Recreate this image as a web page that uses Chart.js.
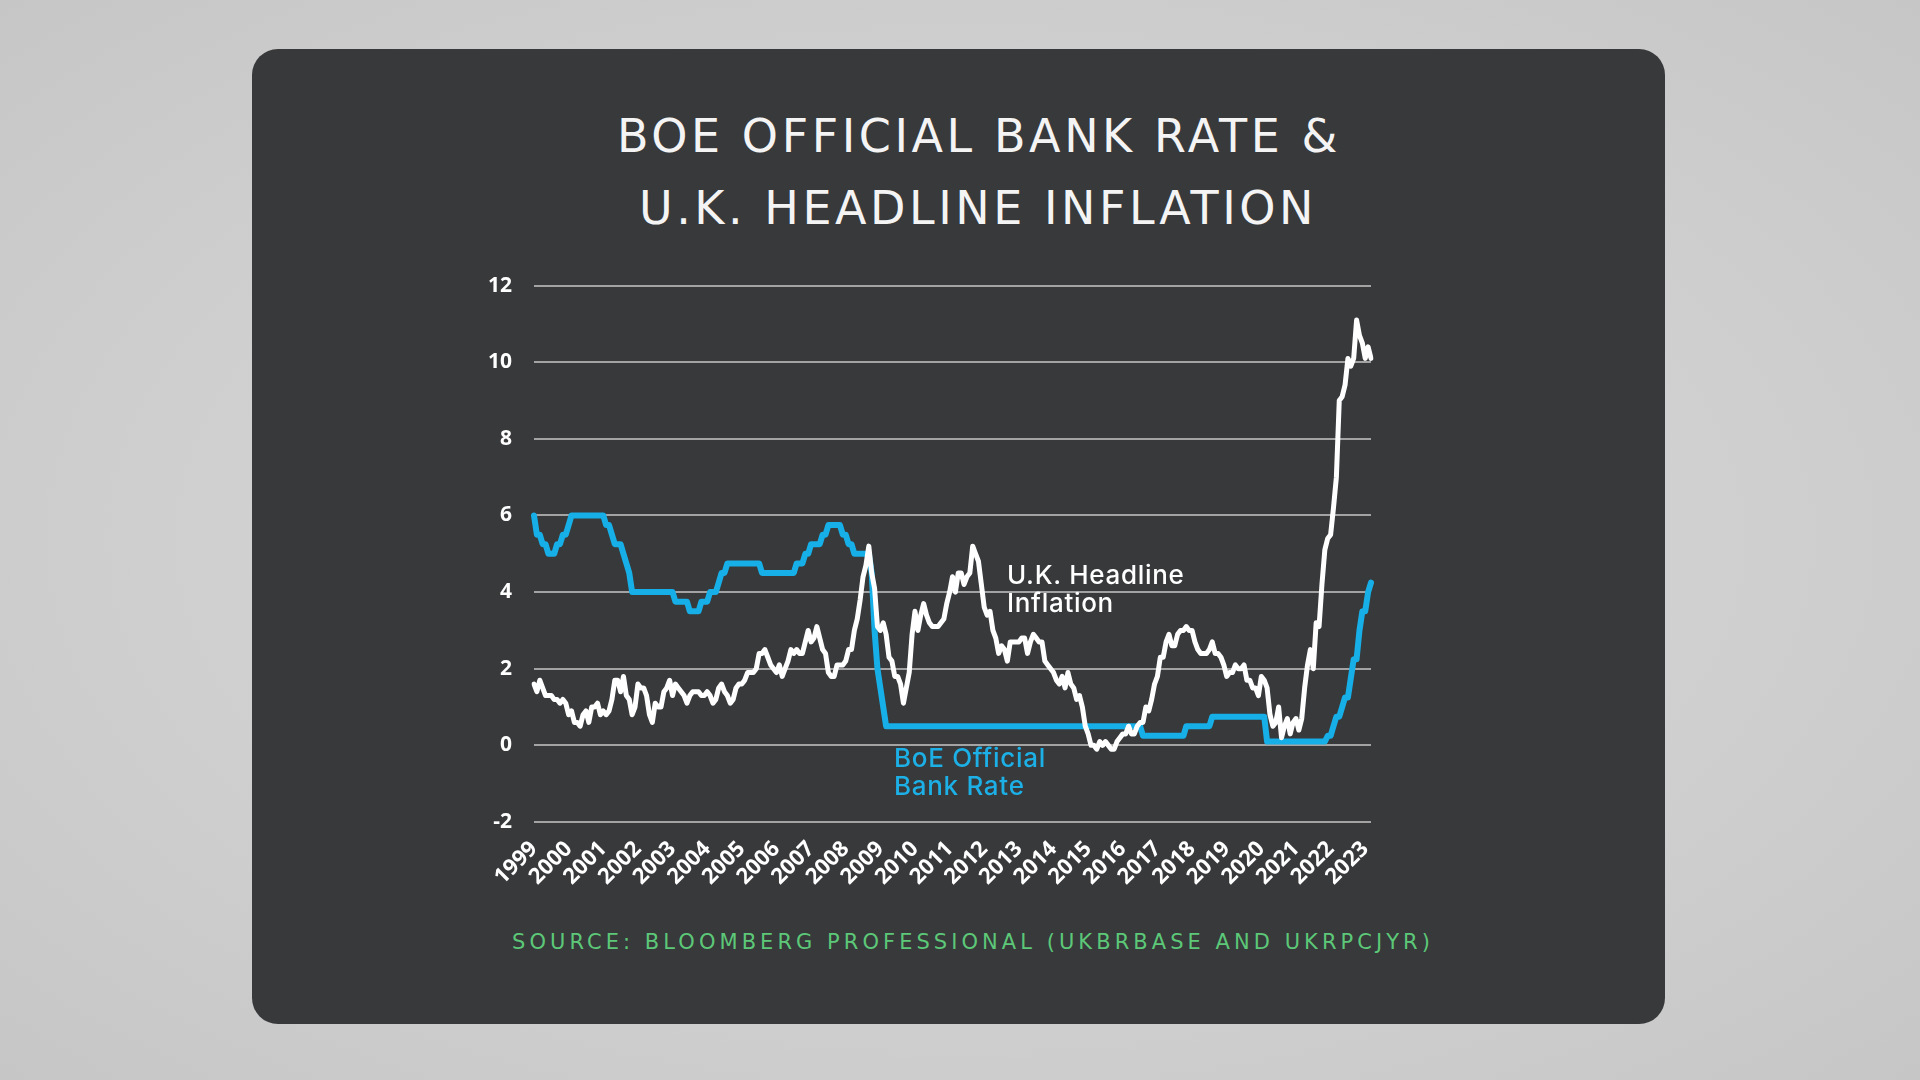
<!DOCTYPE html>
<html>
<head>
<meta charset="utf-8">
<script src="https://cdn.jsdelivr.net/npm/chart.js@4.4.0/dist/chart.umd.min.js"></script>
<style>
  html, body { margin:0; padding:0; }
  body { width:1920px; height:1080px; overflow:hidden; position:relative;
         background: radial-gradient(ellipse at 50% 50%, #d9d9d9 0%, #cfcfcf 60%, #c6c6c6 100%); }
  #panel { position:absolute; left:252px; top:49px; width:1413px; height:975px;
           background:#37393b; border-radius:26px; }
  .title { position:absolute; font-family: "DejaVu Sans", Roboto, sans-serif; font-weight:400;
           font-size:46px; line-height:46px; color:#f4f4f4; white-space:nowrap; }
  #source { position:absolute; font-family: "DejaVu Sans", Roboto, sans-serif; font-size:21px;
            line-height:21px; color:#5cc878; white-space:nowrap; }
  .note { position:absolute; font-family: Inter, Lato, sans-serif; font-weight:500; font-size:26px;
          line-height:28px; letter-spacing:0.7px; white-space:nowrap; }
  #chartBox { position:absolute; left:434px; top:251px; width:964px; height:679px; }
</style>
</head>
<body>
<div id="panel"></div>
<div class="title" id="t1" style="left:617px; top:113px;">BOE OFFICIAL BANK RATE &amp;</div>
<div class="title" id="t2" style="left:639px; top:185px;">U.K. HEADLINE INFLATION</div>
<div id="chartBox"><canvas id="c" width="964" height="679"></canvas></div>
<div class="note" id="n1" style="left:1007px; top:561px; color:#ffffff;">U.K. Headline<br>Inflation</div>
<div class="note" id="n2" style="left:894px; top:744px; color:#1cb0e6;">BoE Official<br>Bank Rate</div>
<div id="source" style="left:512px; top:932px;">SOURCE: BLOOMBERG PROFESSIONAL (UKBRBASE AND UKRPCJYR)</div>
<script>
// ---- Data (monthly, Jan 1999 – Mar 2023) ----
const startYear = 1999;
const years = ['1999','2000','2001','2002','2003','2004','2005','2006','2007','2008','2009','2010',
               '2011','2012','2013','2014','2015','2016','2017','2018','2019','2020','2021','2022','2023'];

// U.K. headline CPI inflation, % y/y
const cpi = [
  1.6,1.4,1.7,1.5,1.3,1.3,1.3,1.2,1.2,1.1,1.2,1.1,   // 1999
  0.8,0.9,0.6,0.6,0.5,0.8,0.9,0.6,1.0,1.0,1.1,0.8,   // 2000
  0.9,0.8,0.9,1.2,1.7,1.7,1.4,1.8,1.3,1.2,0.8,1.0,   // 2001
  1.6,1.5,1.5,1.3,0.8,0.6,1.1,1.0,1.0,1.4,1.5,1.7,   // 2002
  1.3,1.6,1.5,1.4,1.3,1.1,1.3,1.4,1.4,1.4,1.3,1.3,   // 2003
  1.4,1.3,1.1,1.2,1.5,1.6,1.4,1.3,1.1,1.2,1.5,1.6,   // 2004
  1.6,1.7,1.9,1.9,1.9,2.0,2.4,2.4,2.5,2.3,2.1,2.0,   // 2005
  1.9,2.1,1.8,2.0,2.2,2.5,2.4,2.5,2.4,2.4,2.7,3.0,   // 2006
  2.7,2.8,3.1,2.8,2.5,2.4,1.9,1.8,1.8,2.1,2.1,2.1,   // 2007
  2.2,2.5,2.5,3.0,3.3,3.8,4.4,4.7,5.2,4.5,4.1,3.1,   // 2008
  3.0,3.2,2.9,2.3,2.2,1.8,1.8,1.6,1.1,1.5,1.9,2.9,   // 2009
  3.5,3.0,3.4,3.7,3.4,3.2,3.1,3.1,3.1,3.2,3.3,3.7,   // 2010
  4.0,4.4,4.0,4.5,4.5,4.2,4.4,4.5,5.2,5.0,4.8,4.2,   // 2011
  3.6,3.4,3.5,3.0,2.8,2.4,2.6,2.5,2.2,2.7,2.7,2.7,   // 2012
  2.7,2.8,2.8,2.4,2.7,2.9,2.8,2.7,2.7,2.2,2.1,2.0,   // 2013
  1.9,1.7,1.6,1.8,1.5,1.9,1.6,1.5,1.2,1.3,1.0,0.5,   // 2014
  0.3,0.0,0.0,-0.1,0.1,0.0,0.1,0.0,-0.1,-0.1,0.1,0.2,// 2015
  0.3,0.3,0.5,0.3,0.3,0.5,0.6,0.6,1.0,0.9,1.2,1.6,   // 2016
  1.8,2.3,2.3,2.7,2.9,2.6,2.6,2.9,3.0,3.0,3.1,3.0,   // 2017
  3.0,2.7,2.5,2.4,2.4,2.4,2.5,2.7,2.4,2.4,2.3,2.1,   // 2018
  1.8,1.9,1.9,2.1,2.0,2.0,2.1,1.7,1.7,1.5,1.5,1.3,   // 2019
  1.8,1.7,1.5,0.8,0.5,0.6,1.0,0.2,0.5,0.7,0.3,0.6,   // 2020
  0.7,0.4,0.7,1.5,2.1,2.5,2.0,3.2,3.1,4.2,5.1,5.4,   // 2021
  5.5,6.2,7.0,9.0,9.1,9.4,10.1,9.9,10.1,11.1,10.7,10.5, // 2022
  10.1,10.4,10.1                                      // 2023
];

// BoE official Bank Rate, %
const bankRate = [
  6.0,5.5,5.5,5.25,5.25,5.0,5.0,5.0,5.25,5.25,5.5,5.5,      // 1999
  5.75,6,6,6,6,6,6,6,6,6,6,6,                               // 2000
  6,5.75,5.75,5.5,5.25,5.25,5.25,5,4.75,4.5,4,4,            // 2001
  4,4,4,4,4,4,4,4,4,4,4,4,                                  // 2002
  4,3.75,3.75,3.75,3.75,3.75,3.5,3.5,3.5,3.5,3.75,3.75,     // 2003
  3.75,4,4,4,4.25,4.5,4.5,4.75,4.75,4.75,4.75,4.75,         // 2004
  4.75,4.75,4.75,4.75,4.75,4.75,4.75,4.5,4.5,4.5,4.5,4.5,   // 2005
  4.5,4.5,4.5,4.5,4.5,4.5,4.5,4.75,4.75,4.75,5,5,           // 2006
  5.25,5.25,5.25,5.25,5.5,5.5,5.75,5.75,5.75,5.75,5.75,5.5, // 2007
  5.5,5.25,5.25,5,5,5,5,5,5,4.5,3,2,                        // 2008
  1.5,1,0.5,0.5,0.5,0.5,0.5,0.5,0.5,0.5,0.5,0.5,            // 2009
  0.5,0.5,0.5,0.5,0.5,0.5,0.5,0.5,0.5,0.5,0.5,0.5,          // 2010
  0.5,0.5,0.5,0.5,0.5,0.5,0.5,0.5,0.5,0.5,0.5,0.5,          // 2011
  0.5,0.5,0.5,0.5,0.5,0.5,0.5,0.5,0.5,0.5,0.5,0.5,          // 2012
  0.5,0.5,0.5,0.5,0.5,0.5,0.5,0.5,0.5,0.5,0.5,0.5,          // 2013
  0.5,0.5,0.5,0.5,0.5,0.5,0.5,0.5,0.5,0.5,0.5,0.5,          // 2014
  0.5,0.5,0.5,0.5,0.5,0.5,0.5,0.5,0.5,0.5,0.5,0.5,          // 2015
  0.5,0.5,0.5,0.5,0.5,0.5,0.5,0.25,0.25,0.25,0.25,0.25,     // 2016
  0.25,0.25,0.25,0.25,0.25,0.25,0.25,0.25,0.25,0.25,0.5,0.5,// 2017
  0.5,0.5,0.5,0.5,0.5,0.5,0.5,0.75,0.75,0.75,0.75,0.75,     // 2018
  0.75,0.75,0.75,0.75,0.75,0.75,0.75,0.75,0.75,0.75,0.75,0.75, // 2019
  0.75,0.75,0.1,0.1,0.1,0.1,0.1,0.1,0.1,0.1,0.1,0.1,        // 2020
  0.1,0.1,0.1,0.1,0.1,0.1,0.1,0.1,0.1,0.1,0.1,0.25,         // 2021
  0.25,0.5,0.75,0.75,1,1.25,1.25,1.75,2.25,2.25,3,3.5,      // 2022
  3.5,4,4.25                                                // 2023
];

// y-axis tick range
const yMin = -2, yMax = 12, yStep = 2;

// month category labels (Jan 1999 ...)
const monthLabels = cpi.map((_, i) => (startYear + Math.floor(i / 12)) + '-' + String(i % 12 + 1).padStart(2, '0'));

// ---- fit letter spacing of headline texts to reference widths ----
function fitWidth(id, target) {
  const el = document.getElementById(id);
  const w = el.getBoundingClientRect().width;
  const n = el.textContent.length;
  el.style.letterSpacing = ((target - w) / n) + 'px';
}
fitWidth('t1', 724);
fitWidth('t2', 678);
fitWidth('source', 922);

Chart.defaults.font.family = '"Open Sans", "DejaVu Sans", sans-serif';
Chart.defaults.color = '#ffffff';

new Chart(document.getElementById('c'), {
  type: 'line',
  data: {
    labels: monthLabels,
    datasets: [
      { label: 'U.K. Headline Inflation', data: cpi, borderColor: '#ffffff', borderWidth: 5,
        pointRadius: 0, tension: 0, borderJoinStyle: 'round', borderCapStyle: 'round', order: 0 },
      { label: 'BoE Official Bank Rate', data: bankRate, borderColor: '#16afe7', borderWidth: 6,
        pointRadius: 0, tension: 0, borderJoinStyle: 'round', borderCapStyle: 'round', order: 1 }
    ]
  },
  options: {
    responsive: false,
    animation: false,
    devicePixelRatio: 1,
    layout: { padding: { left: 0, top: 15, right: 14, bottom: 0 } },
    plugins: { legend: { display: false }, tooltip: { enabled: false }, title: { display: false } },
    scales: {
      x: {
        type: 'category',
        offset: false,
        grid: { display: false, drawTicks: false },
        border: { display: false },
        ticks: {
          autoSkip: false, minRotation: 45, maxRotation: 45, padding: 14,
          color: '#ffffff', font: { size: 22, weight: 'bold' },
          callback: (v, i) => (i % 12 === 0 ? years[i / 12] : null)
        },
        afterFit: (s) => { s.height = 108; }
      },
      y: {
        min: yMin, max: yMax,
        grid: { color: '#a3a3a3', lineWidth: 2, drawTicks: false },
        border: { display: false },
        ticks: { stepSize: yStep, padding: 22, color: '#ffffff', font: { size: 21, weight: 'bold' } },
        afterFit: (s) => { s.width = 100; }
      }
    }
  }
});
</script>
</body>
</html>
